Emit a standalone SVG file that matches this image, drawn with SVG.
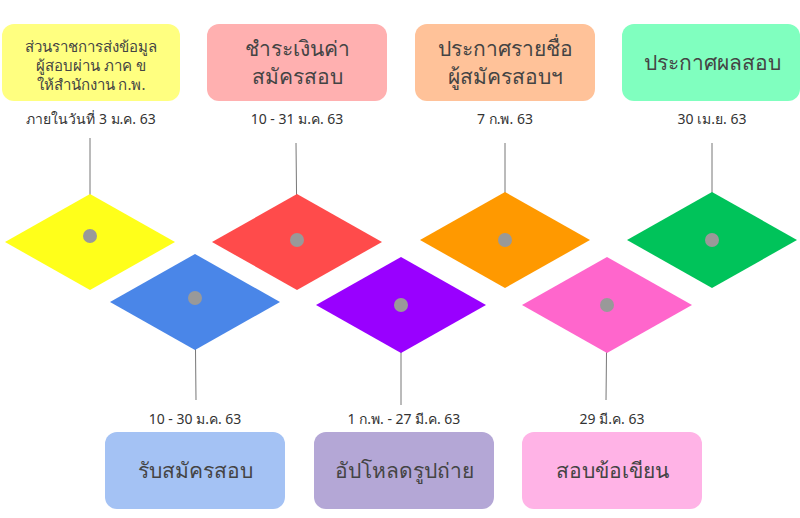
<svg xmlns="http://www.w3.org/2000/svg" width="800" height="518" viewBox="0 0 800 518">
<style>
.lbl{font-family:"Noto Sans","DejaVu Sans",sans-serif;fill:#444;text-anchor:middle}
.big{font-size:21px}
.sm{font-size:15px}
.date{font-family:"Noto Sans","DejaVu Sans",sans-serif;font-size:14px;fill:#333;text-anchor:middle}
.ln{stroke:#777;stroke-width:1}
.dot{fill:#999}
</style>
<rect width="800" height="518" fill="#fff"/>
<g id="connectors">
<line class="ln" x1="90" y1="138" x2="90" y2="236"/>
<line class="ln" x1="296" y1="143" x2="297" y2="240"/>
<line class="ln" x1="505" y1="143" x2="505" y2="240"/>
<line class="ln" x1="712" y1="143" x2="712" y2="240"/>
<line class="ln" x1="195" y1="298" x2="196" y2="400"/>
<line class="ln" x1="401" y1="305" x2="401" y2="405"/>
<line class="ln" x1="607" y1="305" x2="606" y2="400"/>
</g>
<g id="d1"><polygon points="5,242 90,194 175,242 90,290" fill="#ffff1a"/><circle class="dot" cx="90" cy="236" r="7"/></g>
<g id="d2"><polygon points="110,302 195,254 280,302 195,350" fill="#4a86e8"/><circle class="dot" cx="195" cy="298" r="7"/></g>
<g id="d3"><polygon points="212,242 297,194 382,242 297,290" fill="#ff4b4b"/><circle class="dot" cx="297" cy="240" r="7"/></g>
<g id="d4"><polygon points="316,305 401,257 486,305 401,353" fill="#9900ff"/><circle class="dot" cx="401" cy="305" r="7"/></g>
<g id="d5"><polygon points="420,240 505,192 590,240 505,288" fill="#ff9900"/><circle class="dot" cx="505" cy="240" r="7"/></g>
<g id="d6"><polygon points="522,305 607,257 692,305 607,353" fill="#ff66cc"/><circle class="dot" cx="607" cy="305" r="7"/></g>
<g id="d7"><polygon points="627,240 712,192 797,240 712,288" fill="#00c35a"/><circle class="dot" cx="712" cy="240" r="7"/></g>
<g id="b1"><rect x="2" y="24" width="178" height="77" rx="12" fill="#ffff80"/>
<text class="lbl sm" x="91" y="52">ส่วนราชการส่งข้อมูล</text><text class="lbl sm" x="91" y="71">ผู้สอบผ่าน ภาค ข</text><text class="lbl sm" x="91" y="90">ให้สำนักงาน ก.พ.</text>
<text class="date" x="91" y="124">ภายในวันที่ 3 ม.ค. 63</text></g>
<g id="b2"><rect x="207" y="24" width="180" height="77" rx="12" fill="#ffb0b0"/>
<text class="lbl big" x="297" y="56">ชำระเงินค่า</text><text class="lbl big" x="297" y="84">สมัครสอบ</text>
<text class="date" x="297" y="124">10 - 31 ม.ค. 63</text></g>
<g id="b3"><rect x="415" y="24" width="180" height="77" rx="12" fill="#ffc299"/>
<text class="lbl big" x="505" y="56">ประกาศรายชื่อ</text><text class="lbl big" x="505" y="84">ผู้สมัครสอบฯ</text>
<text class="date" x="505" y="124">7 ก.พ. 63</text></g>
<g id="b4"><rect x="622" y="24" width="178" height="77" rx="12" fill="#80ffbf"/>
<text class="lbl big" x="712" y="70">ประกาศผลสอบ</text>
<text class="date" x="712" y="124">30 เม.ย. 63</text></g>
<g id="b5"><rect x="105" y="432" width="180" height="77" rx="12" fill="#a4c2f4"/>
<text class="lbl big" x="195" y="478">รับสมัครสอบ</text>
<text class="date" x="195" y="424">10 - 30  ม.ค. 63</text></g>
<g id="b6"><rect x="314" y="432" width="180" height="77" rx="12" fill="#b4a7d6"/>
<text class="lbl big" x="404" y="478">อัปโหลดรูปถ่าย</text>
<text class="date" x="404" y="424">1 ก.พ. - 27 มี.ค. 63</text></g>
<g id="b7"><rect x="522" y="432" width="180" height="77" rx="12" fill="#ffb3e6"/>
<text class="lbl big" x="612" y="478">สอบข้อเขียน</text>
<text class="date" x="612" y="424">29 มี.ค. 63</text></g>
</svg>
